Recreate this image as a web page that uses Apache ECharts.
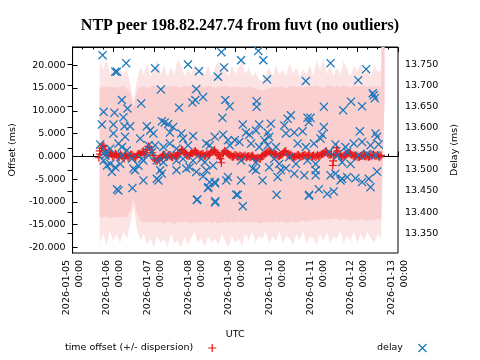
<!DOCTYPE html>
<html><head><meta charset="utf-8">
<script src="https://cdn.jsdelivr.net/npm/echarts@6/dist/echarts.min.js"></script>
<style>html,body{margin:0;padding:0;background:#fff}#c{width:480px;height:360px}</style>
</head><body><div id="c"></div>
<script>
// ---- tick labels ----
const dayLabels = ['2026-01-05','2026-01-06','2026-01-07','2026-01-08','2026-01-09','2026-01-10','2026-01-11','2026-01-12','2026-01-13'];
const offsetTicks = [-20,-15,-10,-5,0,5,10,15,20];
const delayTicks = [13.35,13.40,13.45,13.50,13.55,13.60,13.65,13.70,13.75];

// ---- dispersion band (hours since 2026-01-05 00:00 UTC, ms) ----
const bandHours = [16,18,20,22,24,26,28,30,32,34,36,38,40,42,44,46,48,50,52,54,56,58,60,62,64,66,68,70,72,74,76,78,80,82,84,86,88,90,92,94,96,98,100,102,104,106,108,110,112,114,116,118,120,122,124,126,128,130,132,134,136,138,140,142,144,146,148,150,152,154,156,158,160,162,164,166,168,170,172,174,176,178,180,182,184];
const bandHigh = [15.0,15.3,15.2,15.4,15.0,15.3,15.1,15.5,15.0,14.0,10.5,14.5,15.2,15.4,15.0,15.3,15.6,15.2,15.0,15.3,15.5,15.2,15.6,15.3,15.0,15.4,15.2,15.5,15.3,15.1,15.4,15.2,15.6,15.3,15.0,15.4,15.2,15.5,15.3,15.1,15.4,15.2,15.3,15.0,15.4,15.2,14.8,14.6,14.4,14.8,15.0,15.3,15.1,15.4,15.2,15.0,15.3,15.5,15.2,15.4,15.1,15.3,15.5,15.2,15.6,15.3,15.0,15.4,15.7,15.3,15.5,15.2,15.6,15.3,15.1,15.5,15.2,15.4,15.6,15.3,15.5,15.2,15.4,15.3,60];
const bandLow = [-13.3,-13.5,-13.2,-13.6,-13.4,-13.3,-13.5,-13.2,-13.4,-12.0,-9.3,-12.5,-14.2,-14.5,-14.3,-14.6,-14.4,-14.2,-14.5,-14.7,-14.3,-14.5,-14.8,-14.4,-14.6,-14.3,-14.5,-14.7,-14.4,-14.6,-14.3,-14.5,-14.2,-14.6,-14.4,-14.7,-14.5,-14.3,-14.6,-14.4,-14.5,-14.2,-14.4,-14.6,-14.3,-14.5,-14.4,-14.7,-14.5,-14.3,-14.6,-14.4,-14.2,-14.5,-14.3,-14.6,-14.4,-14.2,-14.5,-14.3,-14.1,-14.4,-14.2,-13.9,-14.1,-13.8,-14.0,-13.7,-13.9,-13.6,-13.8,-14.0,-13.7,-13.9,-14.1,-13.8,-14.0,-13.6,-13.9,-14.1,-13.8,-14.0,-13.7,-13.9,12];
const envHigh = [21,19,21.5,18,20,17.5,19.5,18,19,16,12,17,19.5,18,20.5,17.5,19,21,18,20,17.5,19.5,18,21.5,20,17.5,19,18,20.5,17.5,19,18,20,17.5,19.5,21,18,19.5,17.5,20,18,19.5,21,18,19.5,17.5,18.5,17,16.5,18,19.5,17.5,20,18,19,17.5,20.5,18,19.5,17.5,19,18,20,17.5,21,19,21.5,18,20,17.5,19.5,18,21,19,17.5,20,18.5,20.5,18,19.5,17.5,20,18.5,19,60];
const envLow = [-19,-17,-19.5,-16.5,-18.5,-17,-19,-16.5,-18,-15,-11,-16,-18.5,-17,-19.5,-18,-20,-17.5,-19,-18,-20,-17,-19,-18.5,-20,-17.5,-19.5,-18,-16.5,-19,-18,-20,-17.5,-19,-18,-19.5,-17,-18.5,-20,-17.5,-19,-18,-19.5,-17,-18.5,-16.5,-19,-17.5,-18,-16.5,-19,-17.5,-18.5,-16.5,-19,-17.5,-18,-19.5,-17,-18.5,-16.5,-19,-17.5,-18,-19.5,-17,-18.5,-16.5,-19,-17.5,-18,-16.5,-19,-17.5,-18.5,-16.5,-19,-17,-18.5,-16.5,-18,-19,-17,-18,12];

// ---- time offset (hours, ms) ----
const offsetPointsA = [[15.5,-0.3],[16,1.2],[17,1.8],[18.5,2.2],[20,0.8],[21.5,0.4],[23,0.5],[24.5,0.2],[26,0.3],[27.5,-0.2],[29,0.1],[30.5,-0.4],[32,0.2],[33.5,0.0],[35,0.3],[36.5,-0.1],[38,0.2],[39.5,0.6],[41,0.9],[42.5,0.4],[44,1.5],[45.5,2.0],[47,0.8],[48.5,-0.6],[50,-0.9],[51.5,-0.4],[53,0.1],[54.5,0.3],[56,0.0],[57.5,0.2],[59,-0.2],[60.5,0.1],[62,0.4],[63.5,0.9],[65,1.3],[66.5,0.6],[68,0.2],[69.5,0.5],[71,0.7],[72.5,1.2],[74,0.6],[75.5,0.3],[77,0.5],[78.5,0.2],[80,0.4],[81.5,0.8],[83,1.2],[84.5,0.9],[86,0.3],[87.2,-0.5],[87.8,-1.4],[89,0.8],[90.5,1.0],[92,0.5],[93.5,0.2],[95,0.0],[96.5,0.2],[98,-0.1],[99.5,0.1],[101,0.0],[102.5,-0.2],[104,0.1],[105.5,0.0],[107,-0.3],[108.5,-0.5],[110,-0.4],[111.5,0.0],[113,0.4],[114.5,0.8],[116,1.1],[117.5,0.7],[119,0.5],[120.5,0.3],[122,0.1],[123.5,0.4],[125,1.0],[126.5,0.6],[128,0.2],[129.5,0.1],[131,-0.1],[132.5,0.2],[134,0.0],[135.5,0.1],[137,0.3],[138.5,0.0],[140,0.2],[141.5,0.1],[143,-0.1],[144.5,0.3],[146,0.2],[147.5,0.5],[149,0.9],[150.5,0.7],[152,0.3],[153.5,-2.0],[153.8,-1.0],[155,0.4],[155.7,1.9],[156.5,1.2],[158,0.2],[159.5,0.0],[161,0.3],[162.5,0.6],[164,0.5],[165.5,0.2],[167,0.0],[168.5,-0.2],[170,0.1],[171.5,0.3],[173,0.0],[174.5,-0.1],[176,0.2],[177.5,0.4],[179,0.1],[180.5,0.0],[182,0.2]];
const offsetPointsB = [[16.25,0.5],[17.75,2.4],[19.25,1.2],[20.75,0.2],[22.25,0.8],[23.75,0.0],[25.25,0.6],[26.75,-0.1],[28.25,0.4],[29.75,-0.3],[31.25,0.5],[32.75,-0.2],[34.25,0.4],[35.75,0.0],[37.25,-0.3],[38.75,0.5],[40.25,0.3],[41.75,1.1],[43.25,0.8],[44.75,2.2],[46.25,1.4],[47.75,0.2],[49.25,-1.0],[50.75,-0.6],[52.25,-0.2],[53.75,0.4],[55.25,-0.2],[56.75,0.3],[58.25,0.0],[59.75,0.3],[61.25,-0.1],[62.75,0.7],[64.25,1.5],[65.75,0.9],[67.25,0.3],[68.75,0.1],[70.25,0.8],[71.75,1.0],[73.25,0.8],[74.75,0.2],[76.25,0.6],[77.75,0.1],[79.25,0.6],[80.75,0.3],[82.25,1.0],[83.75,1.4],[85.25,0.5],[86.75,0.1],[88.25,0.5],[89.75,1.2],[91.25,0.7],[92.75,0.3],[94.25,-0.1],[95.75,0.3],[97.25,0.0],[98.75,0.2],[100.25,-0.2],[101.75,0.2],[103.25,0.0],[104.75,-0.2],[106.25,0.2],[107.75,-0.6],[109.25,-0.3],[110.75,-0.6],[112.25,0.2],[113.75,0.6],[115.25,1.0],[116.75,0.9],[118.25,0.4],[119.75,0.6],[121.25,0.0],[122.75,0.3],[124.25,0.7],[125.75,1.2],[127.25,0.3],[128.75,0.4],[130.25,-0.2],[131.75,0.0],[133.25,0.3],[134.75,-0.1],[136.25,0.2],[137.75,0.1],[139.25,0.3],[140.75,-0.1],[142.25,0.2],[143.75,0.0],[145.25,0.1],[146.75,0.4],[148.25,0.7],[149.75,1.1],[151.25,0.4],[152.75,0.5],[154.25,0.1],[155.75,0.6],[157.25,0.4],[158.75,-0.1],[160.25,0.2],[161.75,0.5],[163.25,0.8],[164.75,0.3],[166.25,0.1],[167.75,0.2],[169.25,-0.1],[170.75,0.2],[172.25,0.1],[173.75,0.2],[175.25,0.0],[176.75,0.3],[178.25,0.2],[179.75,0.3],[181.25,-0.1]];

// ---- delay (hours, ms) ----
const delayPoints = [
[17.7,13.771],[31.6,13.752],[25.2,13.732],[26.2,13.732],[48.7,13.740],[52.1,13.690],[29.1,13.665],[40.5,13.657],[18.3,13.637],[24.7,13.635],[32.4,13.645],[30.0,13.624],[17.3,13.607],[24.1,13.607],[30.6,13.603],[34.0,13.603],[43.8,13.603],[52.7,13.615],[24.1,13.586],[31.0,13.578],[39.9,13.574],[45.8,13.593],[47.7,13.586],[27.1,13.562],[29.1,13.554],[22.2,13.550],[19.3,13.542],[32.0,13.546],[53.6,13.554],[44.8,13.558],[48.7,13.558],[18.3,13.522],[22.2,13.514],[25.2,13.506],[23.2,13.495],[35.9,13.503],[36.9,13.499],[40.9,13.526],[41.8,13.522],[51.7,13.499],[52.7,13.491],[49.7,13.479],[50.7,13.475],[41.8,13.475],[26.2,13.454],[35.3,13.457],[27.1,13.451],[19.3,13.534],[29.1,13.534],[46.8,13.542],[35.0,13.526],[20.3,13.510],[28.1,13.514],[44.8,13.534],[49.7,13.522],[53.6,13.518],[38.9,13.510],[16.3,13.560],
[87.8,13.778],[68.1,13.749],[74.6,13.733],[89.4,13.742],[85.8,13.720],[73.0,13.691],[77.0,13.672],[70.7,13.659],[72.4,13.665],[62.8,13.647],[90.1,13.665],[92.7,13.650],[88.4,13.623],[54.4,13.612],[56.4,13.608],[59.3,13.601],[57.4,13.588],[64.2,13.586],[65.2,13.574],[71.1,13.580],[83.9,13.578],[88.8,13.583],[95.7,13.570],[57.4,13.562],[61.3,13.550],[68.1,13.558],[78.9,13.562],[80.9,13.558],[91.7,13.570],[92.7,13.558],[55.4,13.534],[61.3,13.522],[65.2,13.526],[71.1,13.522],[76.0,13.526],[78.0,13.518],[67.1,13.503],[69.1,13.506],[61.3,13.499],[73.0,13.495],[78.9,13.499],[82.9,13.510],[77.0,13.485],[80.9,13.471],[83.9,13.471],[79.9,13.457],[90.7,13.475],[91.7,13.483],[96.6,13.441],[73.6,13.430],[84.2,13.426],[73.3,13.429],[84.1,13.423],[80.1,13.459],[84.1,13.468],
[109.6,13.781],[99.4,13.759],[112.5,13.759],[114.7,13.714],[137.6,13.710],[108.6,13.662],[108.6,13.649],[128.8,13.629],[126.9,13.621],[138.6,13.623],[100.4,13.607],[110.1,13.607],[117.0,13.609],[124.9,13.605],[102.3,13.588],[104.3,13.583],[108.2,13.593],[115.1,13.588],[116.0,13.578],[113.1,13.570],[125.9,13.586],[130.8,13.588],[135.7,13.591],[98.4,13.566],[105.3,13.562],[110.1,13.554],[115.1,13.558],[120.0,13.554],[132.8,13.562],[137.6,13.554],[99.4,13.522],[108.2,13.518],[119.0,13.526],[121.9,13.514],[127.8,13.530],[106.3,13.503],[108.2,13.499],[116.0,13.506],[122.9,13.499],[125.9,13.504],[131.8,13.514],[138.6,13.522],[99.4,13.475],[112.1,13.475],[121.0,13.483],[130.8,13.491],[136.7,13.487],[97.4,13.441],[120.4,13.441],[100.4,13.414],[139.6,13.441],
[152.2,13.752],[173.2,13.738],[168.5,13.712],[177.7,13.676],[177.1,13.681],[178.3,13.669],[148.3,13.649],[159.6,13.641],[164.3,13.661],[170.8,13.650],[140.4,13.623],[139.4,13.613],[148.3,13.601],[147.3,13.583],[146.3,13.574],[142.4,13.562],[169.5,13.591],[178.7,13.586],[179.6,13.578],[155.1,13.560],[161.0,13.554],[165.9,13.562],[170.8,13.566],[175.8,13.558],[180.6,13.560],[151.2,13.542],[156.1,13.534],[162.0,13.542],[168.9,13.534],[173.8,13.538],[178.7,13.534],[143.4,13.514],[159.0,13.518],[164.0,13.514],[143.4,13.499],[143.4,13.487],[152.2,13.487],[155.1,13.491],[158.1,13.475],[159.0,13.479],[162.0,13.483],[166.9,13.480],[170.8,13.471],[174.8,13.479],[175.8,13.459],[179.6,13.496],[139.4,13.439],[145.3,13.454],[150.2,13.443],[154.1,13.449]
];

// ---- build ----
const offsetPoints = offsetPointsA.concat(offsetPointsB);
const envData = bandHours.map((h, i) => [h, envLow[i], envHigh[i]]);
const solData = bandHours.map((h, i) => [h, bandLow[i], bandHigh[i]]);

function bandRenderer(lowArr, highArr, color) {
  return function (params, api) {
    if (params.dataIndex !== 0) return null;
    const pts = [];
    for (let i = 0; i < bandHours.length; i++) pts.push(api.coord([bandHours[i], highArr[i]]));
    for (let i = bandHours.length - 1; i >= 0; i--) pts.push(api.coord([bandHours[i], lowArr[i]]));
    const cs = params.coordSys;
    return {
      type: 'polygon', shape: { points: pts }, style: { fill: color, stroke: null },
      clipPath: { type: 'rect', shape: { x: cs.x, y: cs.y, width: cs.width, height: cs.height } }
    };
  };
}

const FONT = 'DejaVu Sans';
const PLUS = 'path://M3.4,0H4.6V3.4H8V4.6H4.6V8H3.4V4.6H0V3.4H3.4Z';
const CROSS = 'path://M0,0.9L0.9,0L4.5,3.6L8.1,0L9,0.9L5.4,4.5L9,8.1L8.1,9L4.5,5.4L0.9,9L0,8.1L3.6,4.5Z';
const RED = '#e41a1c', BLUE = '#1a78be';
const lbl = { fontFamily: FONT, fontSize: 9.5, color: '#000' };
const tickLine = { color: '#000', width: 1 };

const chart = echarts.init(document.getElementById('c'), null, { renderer: 'canvas' });
chart.setOption({
  animation: false,
  backgroundColor: '#fff',
  title: {
    text: 'NTP peer 198.82.247.74 from fuvt (no outliers)',
    left: 'center', top: 13,
    textStyle: { fontFamily: 'Liberation Serif', fontWeight: 'bold', fontSize: 16, color: '#000' }
  },
  grid: { left: 72, right: 82, top: 47, bottom: 107, show: true, borderColor: '#000', borderWidth: 1, backgroundColor: 'transparent' },
  legend: [
    { data: ['time offset (+/- dispersion)'], left: 60, top: 338, align: 'right', itemWidth: 8, itemHeight: 8,
      textStyle: Object.assign({ padding: [0, 10, 0, 0] }, lbl), selectedMode: false },
    { data: ['delay'], left: 372, top: 338, align: 'right', itemWidth: 9, itemHeight: 9,
      textStyle: Object.assign({ padding: [0, 10, 0, 0] }, lbl), selectedMode: false }
  ],
  xAxis: [
    { type: 'value', min: 0, max: 192, interval: 24, position: 'bottom',
      axisLine: { lineStyle: tickLine },
      axisTick: { inside: true, length: 5, lineStyle: tickLine },
      minorTick: { show: true, splitNumber: 4, length: 2.5, lineStyle: tickLine },
      splitLine: { show: false }, minorSplitLine: { show: false },
      axisLabel: Object.assign({ rotate: 90, margin: 7, lineHeight: 13,
        formatter: v => dayLabels[Math.round(v / 24)] + '\n00:00' }, lbl),
      name: 'UTC', nameLocation: 'middle', nameGap: 77, nameTextStyle: lbl },
    { type: 'value', min: 0, max: 192, interval: 24, position: 'top',
      axisLine: { lineStyle: tickLine },
      axisTick: { inside: true, length: 5, lineStyle: tickLine },
      minorTick: { show: true, splitNumber: 4, length: 2.5, lineStyle: tickLine },
      splitLine: { show: false }, axisLabel: { show: false } }
  ],
  yAxis: [
    { type: 'value', min: -21.2, max: 24.0, position: 'left',
      axisLine: { show: true, lineStyle: tickLine },
      axisTick: { show: true, inside: true, length: 5, lineStyle: tickLine, customValues: offsetTicks },
      axisLabel: Object.assign({ customValues: offsetTicks, margin: 7, formatter: v => v.toFixed(3) }, lbl),
      splitLine: { show: false },
      name: 'Offset (ms)', nameLocation: 'middle', nameGap: 52, nameRotate: 90, nameTextStyle: lbl },
    { type: 'value', min: 13.3035, max: 13.7903, position: 'right',
      axisLine: { show: true, lineStyle: tickLine },
      axisTick: { show: true, inside: true, length: 5, lineStyle: tickLine, customValues: delayTicks },
      axisLabel: Object.assign({ customValues: delayTicks, margin: 7, formatter: v => v.toFixed(3) }, lbl),
      splitLine: { show: false },
      name: 'Delay (ms)', nameLocation: 'middle', nameGap: 52, nameRotate: 90, nameTextStyle: lbl }
  ],
  series: [
    { name: 'envelope', type: 'custom', data: envData, encode: { x: 0, y: [1, 2] },
      renderItem: bandRenderer(envLow, envHigh, '#fce4e4'), silent: true, z: 1 },
    { name: 'band', type: 'custom', data: solData, encode: { x: 0, y: [1, 2] },
      renderItem: bandRenderer(bandLow, bandHigh, '#f9cfcf'), silent: true, z: 2 },
    { name: 'time offset (+/- dispersion)', type: 'scatter', data: offsetPoints, yAxisIndex: 0,
      symbol: PLUS, symbolSize: 8, itemStyle: { color: RED, opacity: 1 }, z: 3 },
    { name: 'delay', type: 'scatter', data: delayPoints, yAxisIndex: 1,
      symbol: CROSS, symbolSize: 9, itemStyle: { color: BLUE, opacity: 1 }, z: 4 }
  ]
});
</script></body></html>
